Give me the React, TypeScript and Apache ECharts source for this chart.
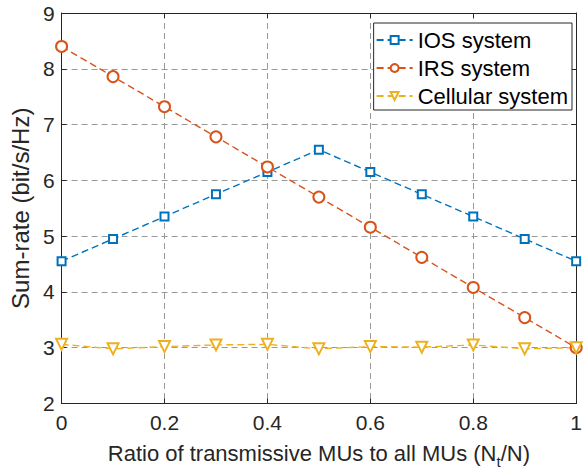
import React, { useEffect, useRef } from "react";
import * as echarts from "echarts";

const xValues = [0, 0.1, 0.2, 0.3, 0.4, 0.5, 0.6, 0.7, 0.8, 0.9, 1];
const iosRate = [4.55, 4.95, 5.35, 5.75, 6.15, 6.55, 6.15, 5.75, 5.35, 4.95, 4.55];
const irsRate = [8.4, 7.86, 7.32, 6.78, 6.24, 5.7, 5.16, 4.62, 4.08, 3.54, 3.0];
const cellRate = [3.06, 2.98, 3.02, 3.05, 3.06, 2.98, 3.02, 3.01, 3.05, 2.98, 3.0];
const seriesNames = ["IOS system", "IRS system", "Cellular system"];
const xTicks = [0, 0.2, 0.4, 0.6, 0.8, 1];
const yTicks = [2, 3, 4, 5, 6, 7, 8, 9];

const FONT = "Liberation Sans, Arial, Helvetica, sans-serif";
const AX = "#262626";

export default function App() {
  const ref = useRef<HTMLDivElement>(null);
  useEffect(() => {
    if (!ref.current) return;
    const chart = echarts.init(ref.current, null, { renderer: "svg" });
    const pair = (ys: number[]) => xValues.map((x, i) => [x, ys[i]]);
    const mk = (name: string, data: number[], color: string, symbol: string, size: number, rotate = 0) => ({
      name,
      type: "line",
      data: pair(data),
      symbol,
      symbolSize: size,
      symbolRotate: rotate,
      showAllSymbol: true,
      lineStyle: { color, width: 1.4, type: [7, 4] },
      itemStyle: { color, borderColor: color, borderWidth: 1.5 },
      emphasis: { disabled: true },
    });
    const frameAxis = {
      axisLine: { show: true, onZero: false, lineStyle: { color: AX, width: 1 } },
      axisTick: { show: true, inside: true, length: 5, lineStyle: { color: AX } },
      axisLabel: { show: false },
      splitLine: { show: false },
    };
    chart.setOption({
      animation: false,
      textStyle: { fontFamily: FONT },
      grid: { left: 60, right: 3, top: 13, bottom: 69, containLabel: false },
      xAxis: [
        {
          type: "value",
          min: 0,
          max: 1,
          interval: 0.2,
          axisLine: { show: true, onZero: false, lineStyle: { color: AX, width: 1 } },
          axisTick: { show: true, inside: true, length: 5, lineStyle: { color: AX } },
          axisLabel: {
            color: AX,
            fontSize: 21,
            margin: 8,
            fontFamily: FONT,
            formatter: (v: number) => {
              const r = Math.round(v * 10) / 10;
              return xTicks.includes(r) ? String(r) : "";
            },
          },
          splitLine: { show: true, lineStyle: { color: "#999999", type: [6, 4], width: 1 } },
          name: "{a|Ratio of transmissive MUs to all MUs (N}{s|t}{a|/N)}",
          nameLocation: "middle",
          nameGap: 37,
          nameTextStyle: {
            color: AX,
            rich: {
              a: { fontSize: 22, fontFamily: FONT, color: AX, lineHeight: 26, verticalAlign: "middle" },
              s: { fontSize: 15, fontFamily: FONT, color: AX, lineHeight: 26, padding: [16, 0, 0, 0], verticalAlign: "middle" },
            },
          },
        },
        { type: "value", position: "top", min: 0, max: 1, interval: 0.2, ...frameAxis },
      ],
      yAxis: [
        {
          type: "value",
          min: 2,
          max: 9,
          interval: 1,
          axisLine: { show: true, lineStyle: { color: AX, width: 1 } },
          axisTick: { show: true, inside: true, length: 5, lineStyle: { color: AX } },
          axisLabel: {
            color: AX,
            fontSize: 21,
            margin: 7,
            fontFamily: FONT,
            formatter: (v: number) => (yTicks.includes(v) ? String(v) : ""),
          },
          splitLine: { show: true, lineStyle: { color: "#999999", type: [6, 4], width: 1 } },
          name: "Sum-rate (bit/s/Hz)",
          nameLocation: "middle",
          nameGap: 26,
          nameTextStyle: { color: AX, fontSize: 24, fontFamily: FONT },
        },
        { type: "value", position: "right", min: 2, max: 9, interval: 1, ...frameAxis },
      ],
      legend: {
        show: true,
        data: seriesNames,
        orient: "vertical",
        right: 13,
        top: 23,
        backgroundColor: "#ffffff",
        borderColor: AX,
        borderWidth: 1,
        borderRadius: 0,
        padding: [6, 4, 3, 2],
        itemGap: 6,
        itemWidth: 36,
        itemHeight: 10,
        textStyle: { fontSize: 22, lineHeight: 22, color: "#000", fontFamily: FONT },
        selectedMode: false,
      },
      series: [
        mk(seriesNames[0], iosRate, "#0072BD", "emptyRect", 8),
        mk(seriesNames[1], irsRate, "#D95319", "emptyCircle", 11),
        mk(seriesNames[2], cellRate, "#EDB120", "emptyTriangle", 11, 180),
      ],
    });
    return () => chart.dispose();
  }, []);
  return <div ref={ref} style={{ width: 585, height: 474, position: "absolute", left: 0, top: 0, background: "#fff" }} />;
}
